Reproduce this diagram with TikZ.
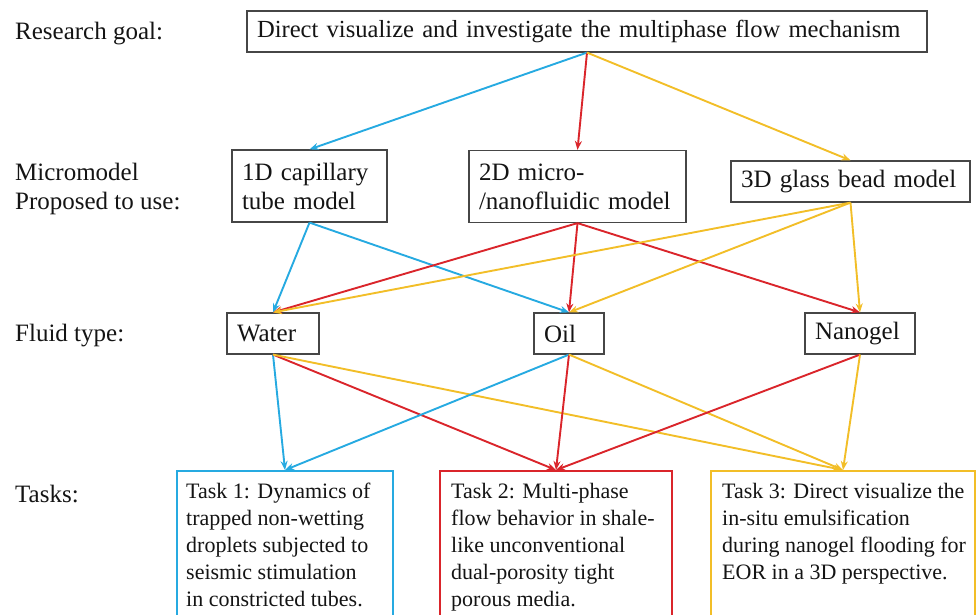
\documentclass[tikz,border=0pt]{standalone}
\usepackage{fontspec}
\setmainfont{Liberation Serif}
\usetikzlibrary{arrows.meta,calc}

\definecolor{flowblue}{RGB}{38,170,225}
\definecolor{flowred}{RGB}{218,37,43}
\definecolor{flowyellow}{RGB}{242,190,40}
\definecolor{framegray}{RGB}{70,70,70}
\definecolor{inkblack}{RGB}{20,20,20}

\begin{document}
\begin{tikzpicture}[x=1pt,y=-1pt,
  every node/.style={text=inkblack, font=\fontsize{25}{29}\selectfont},
  stagelabel/.style={anchor=west, inner sep=0pt, align=left},
  plainbox/.style={draw=framegray, line width=1.2pt, inner xsep=10pt, inner ysep=0pt, align=left},
  taskbox/.style={line width=2pt, minimum width=#1, minimum height=160pt, anchor=north, inner sep=0pt},
  tasktext/.style={anchor=north west, inner sep=0pt, align=left, font=\fontsize{22}{27}\selectfont},
  flow/.style={line width=1.9pt, -{Stealth[length=9pt,width=7pt]}},
]
\useasboundingbox (0,0) rectangle (977,615);
\clip (0,0) rectangle (977,615);

% row labels
\node[stagelabel] (lgoal)  at (15,34)  {Research goal:};
\node[stagelabel] (lmodel) at (15,189) {Micromodel\\Proposed to use:};
\node[stagelabel] (lfluid) at (15,336) {Fluid type:};
\node[stagelabel] (ltask)  at (15,494) {Tasks:};

% research goal
\node[plainbox, minimum height=41pt, text width=660pt,
      font=\fontsize{24.6}{29}\selectfont] (goal) at (587,31.5)
  {Direct visualize and investigate the multiphase flow mechanism};

% micromodels
\node[plainbox, minimum height=72pt, text width=135pt] (m1) at (309.5,186)
  {1D capillary\\tube model};
\node[plainbox, minimum height=72pt, text width=197pt] (m2) at (577.5,186.5)
  {2D micro-\\/nanofluidic model};
\node[plainbox, minimum height=41pt, text width=219pt] (m3) at (850.5,181.5)
  {3D glass bead model};

% fluids
\node[plainbox, minimum height=41pt, text width=72pt] (water) at (273,333.5) {Water};
\node[plainbox, minimum height=41pt, text width=50pt] (oil)   at (569,333.5) {Oil};
\node[plainbox, minimum height=41pt, text width=90pt] (nano)  at (860,333.5) {Nanogel};

% tasks
\node[taskbox=216pt, draw=flowblue]   (t1) at (285,470) {};
\node[taskbox=232pt, draw=flowred]    (t2) at (556,470) {};
\node[taskbox=264pt, draw=flowyellow] (t3) at (843,470) {};

\node[tasktext] (t1text) at ($(t1.north west)+(10,13)$)
  {Task 1: Dynamics of\\trapped non-wetting\\droplets subjected to\\seismic stimulation\\in constricted tubes.};
\node[tasktext] (t2text) at ($(t2.north west)+(12,13)$)
  {Task 2: Multi-phase\\flow behavior in shale-\\like unconventional\\dual-porosity tight\\porous media.};
\node[tasktext] (t3text) at ($(t3.north west)+(12,13)$)
  {Task 3: Direct visualize the\\in-situ emulsification\\during nanogel flooding for\\EOR in a 3D perspective.};

% goal -> micromodels
\draw[flow, flowblue]   (goal.south) -- (m1.north);
\draw[flow, flowred]    (goal.south) -- (m2.north);
\draw[flow, flowyellow] (goal.south) -- (m3.north);

% micromodels -> fluids
\draw[flow, flowblue]   (m1.south) -- (water.north);
\draw[flow, flowblue]   (m1.south) -- (oil.north);
\draw[flow, flowred]    (m2.south) -- (water.north);
\draw[flow, flowred]    (m2.south) -- (oil.north);
\draw[flow, flowred]    (m2.south) -- (nano.north);
\draw[flow, flowyellow] (m3.south) -- (water.north);
\draw[flow, flowyellow] (m3.south) -- (oil.north);
\draw[flow, flowyellow] (m3.south) -- (nano.north);

% fluids -> tasks
\draw[flow, flowblue]   (water.south) -- (t1.north);
\draw[flow, flowred]    (water.south) -- (t2.north);
\draw[flow, flowyellow] (water.south) -- (t3.north);
\draw[flow, flowblue]   (oil.south) -- (t1.north);
\draw[flow, flowred]    (oil.south) -- (t2.north);
\draw[flow, flowyellow] (oil.south) -- (t3.north);
\draw[flow, flowred]    (nano.south) -- (t2.north);
\draw[flow, flowyellow] (nano.south) -- (t3.north);
\end{tikzpicture}
\end{document}
